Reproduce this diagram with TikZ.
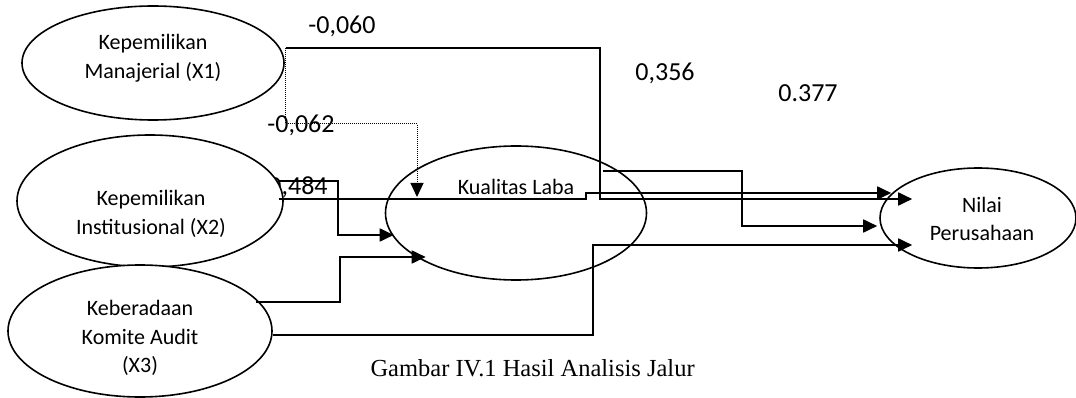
\documentclass[tikz,border=0pt]{standalone}
\usepackage{fontspec}
\setmainfont{Carlito}
\newfontfamily\captfont{Liberation Serif}
\usetikzlibrary{arrows.meta,shapes.geometric}
\definecolor{lnk}{RGB}{0,0,0}
\tikzset{
  ellip/.style={ellipse, draw=lnk, line width=1.6pt, fill=white, inner sep=0pt},
  vtxt/.style={font=\fontsize{22}{28.5}\selectfont, align=center},
  coef/.style={font=\fontsize{26}{30}\selectfont},
  conn/.style={lnk, line width=1.8pt, -{Triangle[length=14pt,width=13pt]}},
  dconn/.style={lnk, line width=1pt, densely dotted, -{Triangle[length=14pt,width=13pt]}},
  capt/.style={font=\captfont\fontsize{24.5}{28}\selectfont},
}

\begin{document}
\begin{tikzpicture}[x=1pt,y=-1pt]
\useasboundingbox (0,0) rectangle (1076,398);
% coefficient hidden partly under X2
\node[coef] (c484) at (298,187) {0,484};
% variables
\node[ellip, minimum width=262, minimum height=114] (x1) at (153,63) {};
\node[ellip, minimum width=266, minimum height=132] (x2) at (150,201) {};
\node[ellip, minimum width=264, minimum height=132] (x3) at (140,331) {};
\node[ellip, fill=none, minimum width=261, minimum height=134] (kl) at (516,213) {};
\node[ellip, minimum width=196, minimum height=100] (np) at (978,218) {};
\node[vtxt] (x1t) at (153,58) {Kepemilikan\\Manajerial (X1)};
\node[vtxt] (x2t) at (151,214) {Kepemilikan\\Institusional (X2)};
\node[vtxt] (x3t) at (140,338) {Keberadaan\\Komite Audit\\(X3)};
\node[vtxt, anchor=base] (klt) at (516,195) {Kualitas Laba};
\node[vtxt] (npt) at (982,219) {Nilai\\Perusahaan};
% paths
\draw[conn] ([shift={(1,-15)}]x1.east) -| (600,199) -- ([shift={(33,-19)}]np.west);
\draw[dconn] ([shift={(1,-15)}]x1.east) |- (417,124) -- ([shift={(-99,-16)}]kl.center);
\draw[conn] ([shift={(-5,-20)}]x2.east) -| (338,235) -- ([shift={(9,22)}]kl.west);
\draw[conn] ([shift={(-5,-2)}]x2.east) -- (586,199) -- (586,193) -- ([shift={(12,-25)}]np.west);
\draw[conn] ([shift={(-44,-42)}]kl.east) -| (742,226) -- ([shift={(-2,8)}]np.west);
\draw[conn] ([shift={(-17,-29)}]x3.east) -| (340,257) -- ([shift={(41,44)}]kl.west);
\draw[conn] ([shift={(0,4)}]x3.east) -| (593,245) -- ([shift={(33,27)}]np.west);
% coefficients
\node[coef] (c060) at (342,26) {-0,060};
\node[coef] (c062) at (301,125) {-0,062};
\node[coef] (c356) at (665,73) {0,356};
\node[coef] (c377) at (808,93) {0.377};
\node[capt, anchor=base west] (capt) at (367,376) {Gambar IV.1 Hasil Analisis Jalur};
\end{tikzpicture}
\end{document}
